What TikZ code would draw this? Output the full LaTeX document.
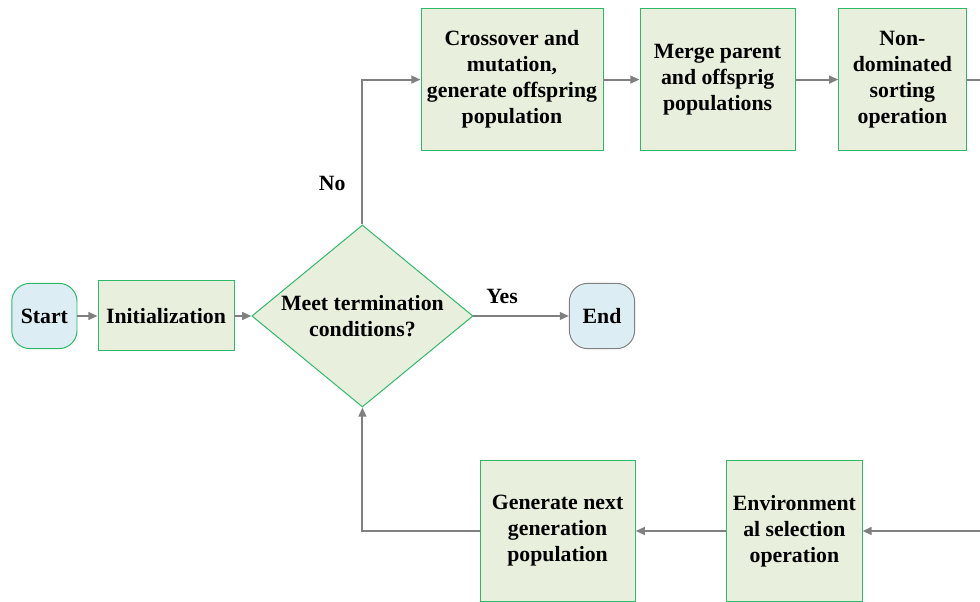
\documentclass[tikz,border=0pt]{standalone}
\usepackage{fontspec}
\setmainfont{Liberation Serif}
\usepackage{tikz}
\usetikzlibrary{arrows.meta, positioning, shapes.geometric}
\usepackage{xcolor}
\definecolor{stepgreen}{HTML}{E9EFDD}
\definecolor{edgegreen}{HTML}{2DB86A}
\definecolor{termblue}{HTML}{DCEDF3}
\definecolor{arrgray}{HTML}{808080}

\begin{document}
\begin{tikzpicture}[
  every node/.style={font=\fontsize{15.5}{18.5}\selectfont\bfseries, align=center, text=black},
  proc/.style={draw=edgegreen, fill=stepgreen, line width=0.7pt, inner sep=2pt},
  term/.style={draw=#1, fill=termblue, line width=0.7pt, rounded corners=0.45cm,
    minimum width=1.63cm, minimum height=1.63cm, inner sep=2pt},
  decide/.style={diamond, draw=edgegreen, fill=stepgreen, line width=0.7pt,
    aspect=1.2, inner sep=0pt, minimum width=5.53cm, minimum height=4.55cm},
  arr/.style={-{Triangle[length=6.5pt, width=5.5pt]}, line width=1.4pt, arrgray}
]
  \useasboundingbox (0,0) rectangle (24.5,15.05);

  % Main line
  \node[term=edgegreen] (start) at (1.11, 7.15) {Start};
  \node[proc, minimum width=3.4cm, minimum height=1.75cm] (init) at (4.15, 7.15) {Initialization};
  \node[decide] (cond) at (9.06, 7.15) {Meet termination\\conditions?};
  \node[term=arrgray] (end) at (15.05, 7.15) {End};

  % Top row
  \node[proc, minimum width=4.55cm, minimum height=3.53cm] (cross) at (12.8, 13.06)
    {Crossover and\\mutation,\\generate offspring\\population};
  \node[proc, minimum width=3.88cm, minimum height=3.53cm] (merge) at (17.94, 13.06)
    {Merge parent\\and offsprig\\populations};
  \node[proc, minimum width=3.18cm, minimum height=3.53cm] (sort) at (22.56, 13.06)
    {Non-\\dominated\\sorting\\operation};
  \coordinate (sortout) at (24.5, 13.06);

  % Bottom row
  \coordinate (envin) at (24.5, 1.775);
  \node[proc, minimum width=3.38cm, minimum height=3.5cm] (env) at (19.86, 1.775)
    {Environment\\al selection\\operation};
  \node[proc, minimum width=3.88cm, minimum height=3.5cm] (next) at (13.94, 1.775)
    {Generate next\\generation\\population};

  % Connectors
  \draw[arr] (start) -- (init);
  \draw[arr] (init) -- (cond.west);
  \draw[arr] (cond.east) -- node[pos=0.3, above=5pt] {Yes} (end);
  \draw[arr] (cond.north) |- node[pos=0.14, left=8pt] {No} (cross.west);
  \draw[arr] (cross) -- (merge);
  \draw[arr] (merge) -- (sort);
  \draw[line width=1.4pt, arrgray] (sort) -- (sortout);
  \draw[arr] (envin) -- (env);
  \draw[arr] (env) -- (next);
  \draw[arr] (next.west) -| (cond.south);
\end{tikzpicture}
\end{document}
